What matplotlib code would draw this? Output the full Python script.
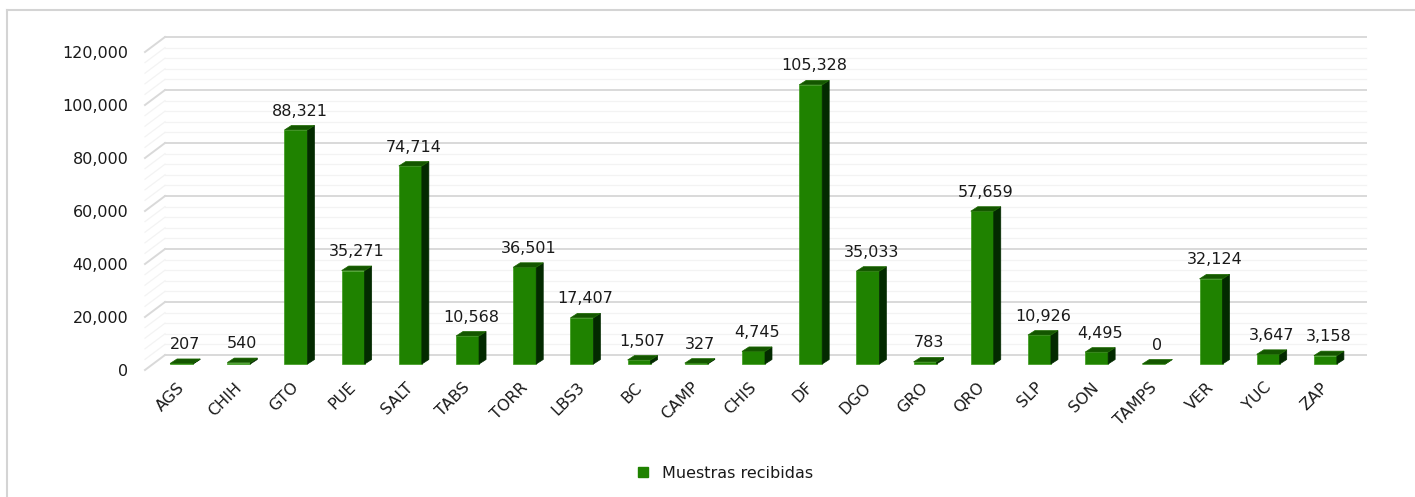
import matplotlib.pyplot as plt
import numpy as np
from matplotlib.patches import Polygon
from matplotlib.lines import Line2D

# datos del gráfico
estados = ['AGS', 'CHIH', 'GTO', 'PUE', 'SALT', 'TABS', 'TORR', 'LBS3', 'BC', 'CAMP', 'CHIS',
           'DF', 'DGO', 'GRO', 'QRO', 'SLP', 'SON', 'TAMPS', 'VER', 'YUC', 'ZAP']
muestras = [207, 540, 88321, 35271, 74714, 10568, 36501, 17407, 1507, 327, 4745,
            105328, 35033, 783, 57659, 10926, 4495, 0, 32124, 3647, 3158]
yticks = [0, 20000, 40000, 60000, 80000, 100000, 120000]

verde = '#1f8200'
verde_top = '#145600'
verde_side = '#032a00'
texto = '#1a1a1a'

W, H = 1415, 497
fig = plt.figure(figsize=(W / 100, H / 100), dpi=100)
plt.rcParams['font.family'] = ['DejaVu Sans']

# plano frontal del gráfico en pixeles
x0, x1 = 145, 1346
y0, y1 = 370, 52
ax = fig.add_axes([x0 / W, 1 - y0 / H, (x1 - x0) / W, (y0 - y1) / H])
n = len(estados)
ax.set_xlim(-0.5, n - 0.5)
ax.set_ylim(0, 120000)
for s in ax.spines.values():
    s.set_visible(False)

px_x = (n) / (x1 - x0)          # unidades de categoria por pixel
px_y = 120000 / (y0 - y1)       # unidades de valor por pixel

# pared del fondo (profundidad)
wdx, wdy = 20 * px_x, 15 * px_y
for v in range(0, 120001, 4000):
    mayor = v % 20000 == 0
    c = '#d9d9d9' if mayor else '#f3f3f3'
    lw = 1.4 if mayor else 0.9
    ax.plot([-0.5 + wdx, n - 0.5 + wdx], [v + wdy, v + wdy], color=c, lw=lw, clip_on=False, zorder=1)
    ax.plot([-0.5, -0.5 + wdx], [v, v + wdy], color=c, lw=lw, clip_on=False, zorder=1)

# barras con efecto 3D
x = np.arange(n)
bdx, bdy = 8 * px_x, 6 * px_y
ddx, ddy = 7 * px_x, 4.5 * px_y
ancho = 23 * px_x
xc = x + bdx
ax.bar(xc, muestras, width=ancho, bottom=bdy, color=verde, edgecolor='#3a9a1a',
       linewidth=0.5, zorder=3, clip_on=False)
for xi, v in zip(xc, muestras):
    l, r = xi - ancho / 2, xi + ancho / 2
    b, t = bdy, bdy + v
    ax.add_patch(Polygon([(r, b), (r + ddx, b + ddy), (r + ddx, t + ddy), (r, t)],
                         closed=True, facecolor=verde_side, edgecolor=verde_side, lw=0.5,
                         zorder=3, clip_on=False))
    ax.add_patch(Polygon([(l, t), (r, t), (r + ddx, t + ddy), (l + ddx, t + ddy)],
                         closed=True, facecolor=verde_top, edgecolor='#1c6a00', lw=0.5,
                         zorder=4, clip_on=False))
    ax.annotate(f'{v:,}', (xi + ddx / 2, t + ddy), xytext=(0, 5), textcoords='offset points',
                ha='center', va='bottom', fontsize=11.5, color=texto, zorder=5)

# ejes
ax.set_yticks(yticks)
ax.set_yticklabels([f'{v:,}' for v in yticks], fontsize=11.5, color=texto)
ax.tick_params(axis='y', length=0, pad=12)
ax.set_xticks(x + 0.05)
ax.set_xticklabels(estados, rotation=45, ha='right', rotation_mode='anchor',
                   fontsize=11.5, color=texto)
ax.tick_params(axis='x', length=0, pad=7)

# leyenda
h = Line2D([], [], marker='s', color=verde, linestyle='none', markersize=7)
fig.legend([h], ['Muestras recibidas'], loc='center', bbox_to_anchor=(0.509, 0.048),
           frameon=False, fontsize=11.5, handletextpad=0.2, labelcolor=texto)

# marco
fig.add_artist(Line2D([7 / W, 1], [1 - 9.5 / H, 1 - 9.5 / H], color='#d4d4d4', lw=1.5))
fig.add_artist(Line2D([7 / W, 7 / W], [0, 1 - 9.5 / H], color='#d4d4d4', lw=1.5))

fig.savefig('out.png', dpi=100)
